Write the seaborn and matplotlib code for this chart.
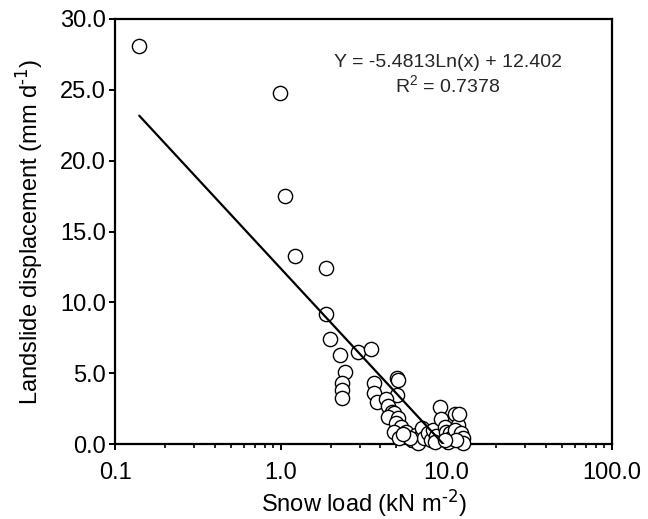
import numpy as np
import pandas as pd
import matplotlib
matplotlib.use("Agg")
import matplotlib.pyplot as plt
import matplotlib.ticker as mticker
import seaborn as sns

# ---- data ----
snow_load = [0.14, 0.99, 1.06, 1.22, 1.87, 1.87, 1.98, 2.27, 2.93, 3.53,
             2.44, 2.33, 2.35, 2.33, 3.68, 3.68, 3.80, 5.05, 5.12, 5.04,
             4.34, 4.45, 4.68, 4.86, 4.45, 5.11, 4.97, 5.36, 5.74, 4.86,
             5.20, 6.20, 6.60, 6.90, 6.70, 7.10, 7.30, 7.80, 8.10, 8.30,
             8.70, 8.50, 9.12, 9.30, 9.80, 10.0, 10.5, 10.2, 10.7, 11.2,
             11.7, 11.2, 12.0, 12.3, 12.6, 12.6, 11.4, 9.80, 6.00, 5.50]
displacement = [28.1, 24.8, 17.5, 13.3, 12.4, 9.2, 7.4, 6.3, 6.5, 6.7,
                5.1, 4.35, 3.8, 3.25, 4.3, 3.6, 3.0, 4.7, 4.55, 3.45,
                3.2, 2.7, 2.3, 2.2, 1.95, 1.85, 1.5, 1.25, 0.9, 0.9,
                0.45, 0.3, 0.66, 0.5, 0.1, 1.13, 0.42, 0.78, 0.3, 1.0,
                0.6, 0.15, 2.6, 1.8, 1.2, 0.9, 0.8, 0.18, 0.42, 2.15,
                1.35, 1.0, 2.1, 0.8, 0.45, 0.1, 0.3, 0.3, 0.42, 0.7]

fit_slope = -5.4813
fit_intercept = 12.402
r_squared = 0.7378

x_ticks = [0.1, 1.0, 10.0, 100.0]
x_tick_labels = ["0.1", "1.0", "10.0", "100.0"]
y_ticks = [0, 5, 10, 15, 20, 25, 30]

df = pd.DataFrame({"snow": snow_load, "disp": displacement})
x_fit = np.geomspace(min(snow_load), max(snow_load), 200)
fit_df = pd.DataFrame({"snow": x_fit, "disp": fit_slope * np.log(x_fit) + fit_intercept})

# ---- style ----
sns.set_theme(style="ticks")
plt.rcParams["font.family"] = ["Liberation Sans", "DejaVu Sans"]
plt.rcParams["mathtext.default"] = "regular"

fig = plt.figure(figsize=(6.48, 5.19), dpi=100)
ax = fig.add_axes([0.1775, 0.144, 0.767, 0.8195])

sns.scatterplot(data=df, x="snow", y="disp", ax=ax, s=105, marker="o",
                facecolor="white", edgecolor="black", linewidth=1.0,
                clip_on=False, zorder=3)
sns.lineplot(data=fit_df, x="snow", y="disp", ax=ax, color="black",
             linewidth=1.6, zorder=4)

ax.set_xscale("log")
ax.set_xlim(0.1, 100)
ax.set_ylim(0, 30)
ax.set_xticks(x_ticks)
ax.set_xticklabels(x_tick_labels)
ax.xaxis.set_minor_locator(mticker.LogLocator(base=10, subs=np.arange(2, 10)))
ax.xaxis.set_minor_formatter(mticker.NullFormatter())
ax.set_yticks(y_ticks)
ax.yaxis.set_major_formatter(mticker.FormatStrFormatter("%.1f"))

for sp in ax.spines.values():
    sp.set_linewidth(1.6)
    sp.set_color("black")

ax.tick_params(axis="both", which="major", direction="out", length=4.5,
               width=1.4, labelsize=17, colors="black")
ax.tick_params(axis="y", which="major", pad=2)
ax.tick_params(axis="x", which="major", pad=8)
ax.tick_params(axis="x", which="minor", direction="out", length=3,
               width=1.2, colors="black")
ax.tick_params(top=False, right=False, which="both")

ax.set_xlabel(r"Snow load (kN m$^{\text{-2}}$)", fontsize=17, labelpad=3,
              color="black")
ax.set_ylabel(r"Landslide displacement (mm d$^{\text{-1}}$)", fontsize=17,
              labelpad=11, color="black")

ax.text(0.67, 0.897, f"Y = {fit_slope}Ln(x) + {fit_intercept}",
        transform=ax.transAxes, ha="center", va="center", fontsize=14)
ax.text(0.67, 0.845, f"R$^2$ = {r_squared}",
        transform=ax.transAxes, ha="center", va="center", fontsize=14)

fig.savefig("out.png", dpi=100, facecolor="white")
